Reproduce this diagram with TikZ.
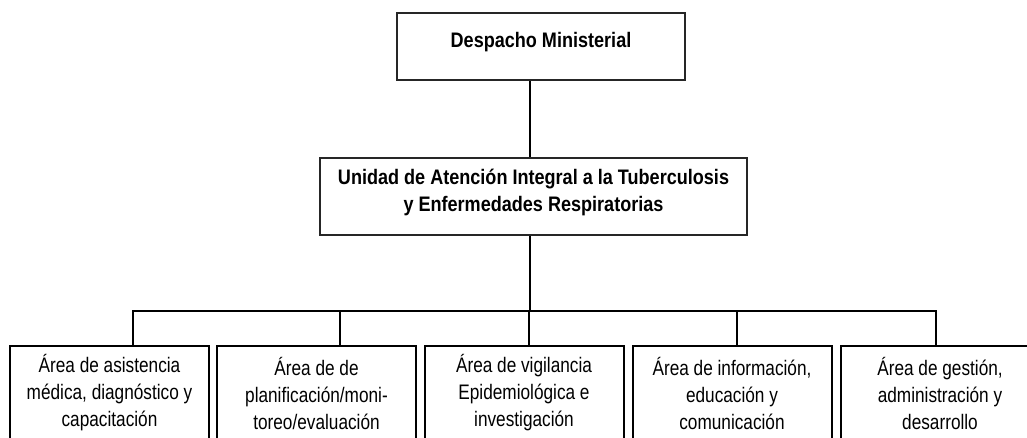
\documentclass[tikz,border=0pt]{standalone}
\usepackage{fontspec}
\setmainfont{Liberation Sans}[FakeStretch=0.82,BoldFeatures={FakeStretch=0.86}]
\usetikzlibrary{positioning}
\tikzstyle{jefe}=[rectangle,
draw=black!85,
font=\bfseries\fontsize{21}{27}\selectfont,
align=center]
\tikzstyle{area}=[rectangle,
draw,
font=\fontsize{21}{27}\selectfont,
align=center,
minimum width=199pt,
minimum height=94pt,
inner sep=0pt,
anchor=north]
\tikzset{
	every picture/.style={
		x=1pt,y=1pt,
		line width=2pt
}}
\begin{document}
\begin{tikzpicture}
\useasboundingbox (0,0) rectangle (1027,-438);
\clip (0,0) rectangle (1027,-438); % 下方的框被裁掉
\node [jefe,minimum width=288pt,minimum height=67pt,text depth=14pt] (desp) at (541,-46.5) {Despacho Ministerial};
\node [jefe,minimum width=427pt,minimum height=77pt,text depth=12pt] (unidad) at (533.5,-196.5) {Unidad de Atención Integral a la Tuberculosis\\y Enfermedades Respiratorias};
\node [area] (a1) at (109.5,-345) {Área de asistencia\\médica, diagnóstico y\\capacitación};
\node [area] (a2) at (316.5,-345) {Área de de\\planificación/moni-\\toreo/evaluación};
\node [area] (a3) at (524,-345) {Área de vigilancia\\Epidemiológica e\\investigación};
\node [area] (a4) at (732,-345) {Área de información,\\educación y\\comunicación};
\node [area] (a5) at (940,-345) {Área de gestión,\\administración y\\desarrollo};
\coordinate (tronco) at (530,-311);
\draw (desp.south -| tronco) -- (unidad.north -| tronco);
\draw (unidad.south -| tronco) -- (tronco);
\foreach \i/\x in {1/133,2/340,3/529,4/737,5/936}
	\coordinate (b\i) at (\x,-311);
\draw (a1.north -| b1) -- (b1) -- (b5) -- (a5.north -| b5); % 横线
\foreach \i in {2,3,4}
	\draw (b\i) -- (a\i.north -| b\i);
\end{tikzpicture}
\end{document}
